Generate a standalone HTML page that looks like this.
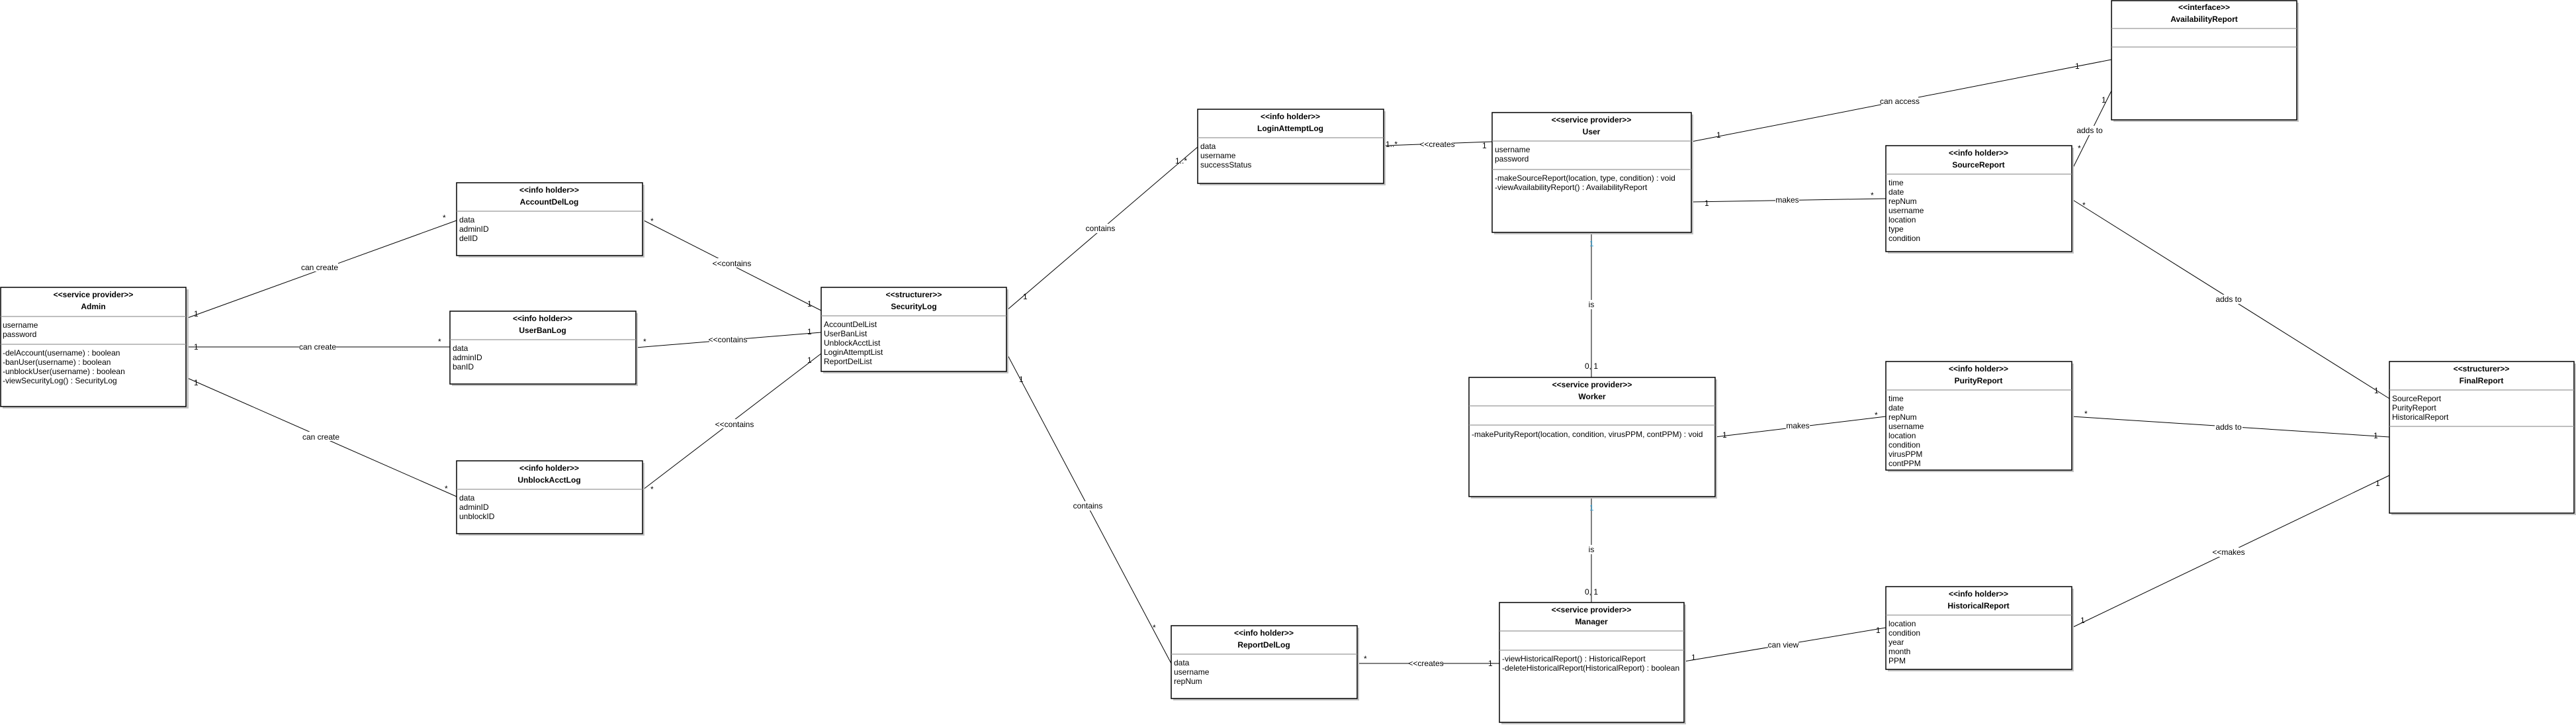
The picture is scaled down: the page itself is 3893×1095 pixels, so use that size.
<!DOCTYPE html>
<html><head><meta charset="utf-8"><style>
html,body{margin:0;padding:0;background:#fff;}
svg{display:block;}
text{font-family:"Liberation Sans",Arial,sans-serif;font-size:12px;fill:#000;}
.b{font-weight:bold;}
.sh{fill:#c4c4c4;}
.bx{fill:#fff;stroke:#000;stroke-width:1.5;}
.sp{stroke:#999;stroke-width:1.2;}
.ln{stroke:#000;stroke-width:1;fill:none;}
.lb{fill:#fff;}
</style></head><body>
<svg width="3893" height="1095" viewBox="0 0 3893 1095" xmlns="http://www.w3.org/2000/svg">
<g class="ln">
<line x1="281" y1="481" x2="690" y2="333"/>
<line x1="281" y1="524" x2="680" y2="524"/>
<line x1="281" y1="570" x2="690" y2="750"/>
<line x1="971" y1="332" x2="1241" y2="469"/>
<line x1="961" y1="525" x2="1241" y2="502"/>
<line x1="971" y1="740" x2="1241" y2="534"/>
<line x1="1521" y1="469" x2="1810" y2="222"/>
<line x1="1521" y1="533" x2="1770" y2="1002"/>
<line x1="2091" y1="220" x2="2255" y2="214"/>
<line x1="2556" y1="214" x2="3191" y2="90"/>
<line x1="2556" y1="305" x2="2850" y2="300"/>
<line x1="3131" y1="257" x2="3191" y2="137"/>
<line x1="3131" y1="301" x2="3611" y2="602"/>
<line x1="2405" y1="351" x2="2405" y2="570"/>
<line x1="2592" y1="660" x2="2850" y2="629"/>
<line x1="3131" y1="629" x2="3611" y2="660"/>
<line x1="2405" y1="750" x2="2405" y2="910"/>
<line x1="2051" y1="1002" x2="2266" y2="1002"/>
<line x1="2545" y1="999" x2="2850" y2="948"/>
<line x1="3131" y1="948" x2="3611" y2="718"/>
</g>
<g text-anchor="middle">
<rect class="lb" x="455" y="396" width="56" height="14"/><text x="483" y="408">can create</text>
<rect class="lb" x="452" y="517" width="56" height="14"/><text x="480" y="528">can create</text>
<rect class="lb" x="457" y="652" width="56" height="14"/><text x="485" y="664">can create</text>
<rect class="lb" x="1078" y="390" width="56" height="14"/><text x="1106" y="402">&lt;&lt;contains</text>
<rect class="lb" x="1072" y="505" width="56" height="14"/><text x="1100" y="517">&lt;&lt;contains</text>
<rect class="lb" x="1082" y="633" width="56" height="14"/><text x="1110" y="645">&lt;&lt;contains</text>
<rect class="lb" x="1641" y="338" width="44" height="14"/><text x="1663" y="349">contains</text>
<rect class="lb" x="1622" y="757" width="44" height="14"/><text x="1644" y="768">contains</text>
<rect class="lb" x="2147" y="211" width="50" height="14"/><text x="2172" y="222">&lt;&lt;creates</text>
<rect class="lb" x="2843" y="146" width="56" height="14"/><text x="2871" y="157">can access</text>
<rect class="lb" x="2683" y="295" width="36" height="14"/><text x="2701" y="306">makes</text>
<rect class="lb" x="3137" y="190" width="42" height="14"/><text x="3158" y="201">adds to</text>
<rect class="lb" x="3347" y="445" width="42" height="14"/><text x="3368" y="456">adds to</text>
<rect class="lb" x="2400" y="453" width="10" height="14"/><text x="2405" y="464">is</text>
<rect class="lb" x="2699" y="636" width="36" height="14"/><text x="2717" y="647">makes</text>
<rect class="lb" x="3347" y="638" width="42" height="14"/><text x="3368" y="649">adds to</text>
<rect class="lb" x="2400" y="823" width="10" height="14"/><text x="2405" y="834">is</text>
<rect class="lb" x="2130" y="995" width="50" height="14"/><text x="2155" y="1006">&lt;&lt;creates</text>
<rect class="lb" x="2672" y="967" width="46" height="14"/><text x="2695" y="978">can view</text>
<rect class="lb" x="3346" y="827" width="44" height="14"/><text x="3368" y="838">&lt;&lt;makes</text>
</g>
<g>
<text x="293" y="478">1</text><text x="669" y="333">*</text>
<text x="293" y="528">1</text><text x="662" y="520">*</text>
<text x="293" y="582">1</text><text x="672" y="742">*</text>
<text x="983" y="338">*</text><text x="1220" y="463">1</text>
<text x="972" y="520">*</text><text x="1220" y="505">1</text>
<text x="983" y="743">*</text><text x="1220" y="548">1</text>
<text x="1546" y="452">1</text><text x="1776" y="247">1..*</text>
<text x="1540" y="577">1</text><text x="1742" y="952">*</text>
<text x="2094" y="222">1..*</text><text x="2240" y="224">1</text>
<text x="2594" y="208">1</text><text x="3136" y="104">1</text>
<text x="2576" y="311">1</text><text x="2827" y="299">*</text>
<text x="3176" y="155">1</text><text x="3140" y="228">*</text>
<text x="3147" y="314">*</text><text x="3588" y="594">1</text>
<text x="2402" y="372" style="fill:#3aa0d0">1</text><text x="2395" y="557">0, 1</text>
<text x="2603" y="661">1</text><text x="2833" y="631">*</text>
<text x="3150" y="629">*</text><text x="3587" y="662">1</text>
<text x="2402" y="771" style="fill:#3aa0d0">1</text><text x="2395" y="898">0, 1</text>
<text x="2061" y="999">*</text><text x="2249" y="1006">1</text>
<text x="2556" y="997">1</text><text x="2835" y="956">1</text>
<text x="3144" y="941">1</text><text x="3590" y="734">1</text>
</g>

<rect class="sh" x="4" y="437" width="281" height="180"/>
<rect class="bx" x="1" y="434" width="280" height="180"/>
<line class="sp" x1="1" y1="478" x2="281" y2="478"/><line class="sp" x1="1" y1="520" x2="281" y2="520"/>
<text class="b" x="141" y="449" text-anchor="middle">&lt;&lt;service provider&gt;&gt;</text>
<text class="b" x="141" y="467" text-anchor="middle">Admin</text>
<text x="4" y="495">username</text><text x="4" y="509">password</text>
<text x="4" y="537">-delAccount(username) : boolean</text>
<text x="4" y="551">-banUser(username) : boolean</text>
<text x="4" y="565">-unblockUser(username) : boolean</text>
<text x="4" y="579">-viewSecurityLog() : SecurityLog</text>

<rect class="sh" x="693" y="279" width="281" height="110"/>
<rect class="bx" x="690" y="276" width="281" height="110"/>
<line class="sp" x1="690" y1="319" x2="971" y2="319"/>
<text class="b" x="830" y="291" text-anchor="middle">&lt;&lt;info holder&gt;&gt;</text>
<text class="b" x="830" y="309" text-anchor="middle">AccountDelLog</text>
<text x="694" y="336">data</text><text x="694" y="350">adminID</text><text x="694" y="364">delID</text>

<rect class="sh" x="683" y="473" width="281" height="110"/>
<rect class="bx" x="680" y="470" width="281" height="110"/>
<line class="sp" x1="680" y1="513" x2="961" y2="513"/>
<text class="b" x="820" y="485" text-anchor="middle">&lt;&lt;info holder&gt;&gt;</text>
<text class="b" x="820" y="503" text-anchor="middle">UserBanLog</text>
<text x="684" y="530">data</text><text x="684" y="544">adminID</text><text x="684" y="558">banID</text>

<rect class="sh" x="693" y="699" width="281" height="110"/>
<rect class="bx" x="690" y="696" width="281" height="110"/>
<line class="sp" x1="690" y1="739" x2="971" y2="739"/>
<text class="b" x="830" y="711" text-anchor="middle">&lt;&lt;info holder&gt;&gt;</text>
<text class="b" x="830" y="729" text-anchor="middle">UnblockAcctLog</text>
<text x="694" y="756">data</text><text x="694" y="770">adminID</text><text x="694" y="784">unblockID</text>

<rect class="sh" x="1244" y="437" width="280" height="127"/>
<rect class="bx" x="1241" y="434" width="280" height="127"/>
<line class="sp" x1="1241" y1="477" x2="1521" y2="477"/>
<text class="b" x="1381" y="449" text-anchor="middle">&lt;&lt;structurer&gt;&gt;</text>
<text class="b" x="1381" y="467" text-anchor="middle">SecurityLog</text>
<text x="1245" y="494">AccountDelList</text><text x="1245" y="508">UserBanList</text><text x="1245" y="522">UnblockAcctList</text><text x="1245" y="536">LoginAttemptList</text><text x="1245" y="550">ReportDelList</text>

<rect class="sh" x="1813" y="168" width="281" height="112"/>
<rect class="bx" x="1810" y="165" width="281" height="112"/>
<line class="sp" x1="1810" y1="208" x2="2091" y2="208"/>
<text class="b" x="1950" y="180" text-anchor="middle">&lt;&lt;info holder&gt;&gt;</text>
<text class="b" x="1950" y="198" text-anchor="middle">LoginAttemptLog</text>
<text x="1814" y="225">data</text><text x="1814" y="239">username</text><text x="1814" y="253">successStatus</text>

<rect class="sh" x="2258" y="173" width="301" height="181"/>
<rect class="bx" x="2255" y="170" width="301" height="181"/>
<line class="sp" x1="2255" y1="213" x2="2556" y2="213"/><line class="sp" x1="2255" y1="256" x2="2556" y2="256"/>
<text class="b" x="2405" y="185" text-anchor="middle">&lt;&lt;service provider&gt;&gt;</text>
<text class="b" x="2405" y="203" text-anchor="middle">User</text>
<text x="2259" y="230">username</text><text x="2259" y="244">password</text>
<text x="2259" y="273">-makeSourceReport(location, type, condition) : void</text>
<text x="2259" y="287">-viewAvailabilityReport() : AvailabilityReport</text>

<rect class="sh" x="3194" y="4" width="280" height="180"/>
<rect class="bx" x="3191" y="1" width="280" height="180"/>
<line class="sp" x1="3191" y1="43" x2="3471" y2="43"/><line class="sp" x1="3191" y1="71" x2="3471" y2="71"/>
<text class="b" x="3331" y="15" text-anchor="middle">&lt;&lt;interface&gt;&gt;</text>
<text class="b" x="3331" y="33" text-anchor="middle">AvailabilityReport</text>

<rect class="sh" x="2853" y="223" width="281" height="160"/>
<rect class="bx" x="2850" y="220" width="281" height="160"/>
<line class="sp" x1="2850" y1="263" x2="3131" y2="263"/>
<text class="b" x="2990" y="235" text-anchor="middle">&lt;&lt;info holder&gt;&gt;</text>
<text class="b" x="2990" y="253" text-anchor="middle">SourceReport</text>
<text x="2854" y="280">time</text><text x="2854" y="294">date</text><text x="2854" y="308">repNum</text><text x="2854" y="322">username</text><text x="2854" y="336">location</text><text x="2854" y="350">type</text><text x="2854" y="364">condition</text>

<rect class="sh" x="2223" y="573" width="372" height="180"/>
<rect class="bx" x="2220" y="570" width="372" height="180"/>
<line class="sp" x1="2220" y1="613" x2="2592" y2="613"/><line class="sp" x1="2220" y1="642" x2="2592" y2="642"/>
<text class="b" x="2406" y="585" text-anchor="middle">&lt;&lt;service provider&gt;&gt;</text>
<text class="b" x="2406" y="603" text-anchor="middle">Worker</text>
<text x="2224" y="660">-makePurityReport(location, condition, virusPPM, contPPM) : void</text>

<rect class="sh" x="2853" y="549" width="281" height="164"/>
<rect class="bx" x="2850" y="546" width="281" height="164"/>
<line class="sp" x1="2850" y1="589" x2="3131" y2="589"/>
<text class="b" x="2990" y="561" text-anchor="middle">&lt;&lt;info holder&gt;&gt;</text>
<text class="b" x="2990" y="579" text-anchor="middle">PurityReport</text>
<text x="2854" y="606">time</text><text x="2854" y="620">date</text><text x="2854" y="634">repNum</text><text x="2854" y="648">username</text><text x="2854" y="662">location</text><text x="2854" y="676">condition</text><text x="2854" y="690">virusPPM</text><text x="2854" y="704">contPPM</text>

<rect class="sh" x="3614" y="549" width="279" height="229"/>
<rect class="bx" x="3611" y="546" width="279" height="229"/>
<line class="sp" x1="3611" y1="589" x2="3890" y2="589"/><line class="sp" x1="3611" y1="644" x2="3890" y2="644"/>
<text class="b" x="3750" y="561" text-anchor="middle">&lt;&lt;structurer&gt;&gt;</text>
<text class="b" x="3750" y="579" text-anchor="middle">FinalReport</text>
<text x="3615" y="606">SourceReport</text><text x="3615" y="620">PurityReport</text><text x="3615" y="634">HistoricalReport</text>

<rect class="sh" x="2853" y="889" width="281" height="125"/>
<rect class="bx" x="2850" y="886" width="281" height="125"/>
<line class="sp" x1="2850" y1="929" x2="3131" y2="929"/>
<text class="b" x="2990" y="901" text-anchor="middle">&lt;&lt;info holder&gt;&gt;</text>
<text class="b" x="2990" y="919" text-anchor="middle">HistoricalReport</text>
<text x="2854" y="946">location</text><text x="2854" y="960">condition</text><text x="2854" y="974">year</text><text x="2854" y="988">month</text><text x="2854" y="1002">PPM</text>

<rect class="sh" x="2269" y="913" width="279" height="181"/>
<rect class="bx" x="2266" y="910" width="279" height="181"/>
<line class="sp" x1="2266" y1="953" x2="2545" y2="953"/><line class="sp" x1="2266" y1="982" x2="2545" y2="982"/>
<text class="b" x="2405" y="925" text-anchor="middle">&lt;&lt;service provider&gt;&gt;</text>
<text class="b" x="2405" y="943" text-anchor="middle">Manager</text>
<text x="2270" y="999">-viewHistoricalReport() : HistoricalReport</text>
<text x="2270" y="1013">-deleteHistoricalReport(HistoricalReport) : boolean</text>

<rect class="sh" x="1773" y="948" width="281" height="110"/>
<rect class="bx" x="1770" y="945" width="281" height="110"/>
<line class="sp" x1="1770" y1="988" x2="2051" y2="988"/>
<text class="b" x="1910" y="960" text-anchor="middle">&lt;&lt;info holder&gt;&gt;</text>
<text class="b" x="1910" y="978" text-anchor="middle">ReportDelLog</text>
<text x="1774" y="1005">data</text><text x="1774" y="1019">username</text><text x="1774" y="1033">repNum</text>
</svg>
</body></html>
